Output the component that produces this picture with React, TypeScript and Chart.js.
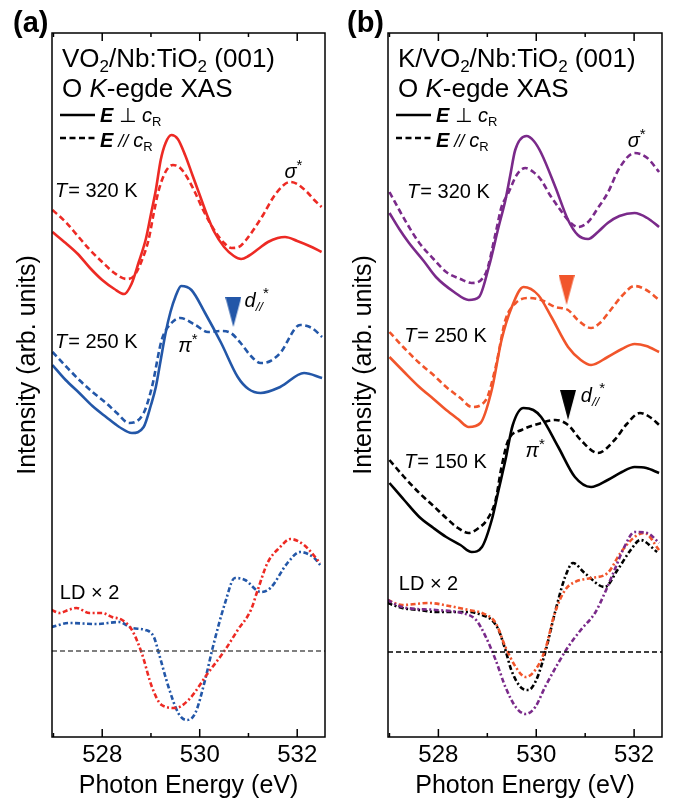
import React, { useEffect, useRef } from 'react';
import { Chart, registerables } from 'chart.js';
Chart.register(...registerables);

const FONT = '"Liberation Sans", Arial, Helvetica, "DejaVu Sans", sans-serif';

// ---- axes ----
const X_MIN = 526.97;
const X_MAX = 532.57;
const Y_MIN = 0;
const Y_MAX = 7.04;
const X_TICK_LABELS = [528, 530, 532];
const X_TITLE = 'Photon Energy (eV)';
const Y_TITLE = 'Intensity (arb. units)';

// ---- colours ----
const RED = '#ED2A24';
const BLUE = '#2357A8';
const PURPLE = '#7A2A8A';
const ORANGE = '#F1552B';
const BLACK = '#000000';

// ================= Panel (a): VO2/Nb:TiO2 =================
const A_E320_PERP = [526.98, 527.25, 527.5, 527.75, 528.0, 528.25, 528.45, 528.6, 528.75, 528.9, 529.0, 529.1, 529.2, 529.3, 529.42, 529.55, 529.7, 529.85, 530.0, 530.15, 530.3, 530.5, 530.7, 530.85, 531.0, 531.2, 531.4, 531.6, 531.75, 532.0, 532.25, 532.5];
const A_I320_PERP = [5.05, 4.94, 4.83, 4.69, 4.57, 4.48, 4.43, 4.53, 4.75, 4.99, 5.23, 5.47, 5.77, 5.94, 6.02, 5.98, 5.82, 5.62, 5.42, 5.22, 5.05, 4.90, 4.81, 4.78, 4.81, 4.88, 4.95, 4.99, 5.00, 4.96, 4.91, 4.85];
const A_E320_PARA = [526.98, 527.25, 527.5, 527.75, 528.0, 528.25, 528.5, 528.65, 528.8, 528.95, 529.05, 529.15, 529.25, 529.35, 529.45, 529.6, 529.75, 529.9, 530.05, 530.2, 530.35, 530.5, 530.65, 530.8, 530.95, 531.1, 531.3, 531.5, 531.7, 531.85, 532.0, 532.2, 532.35, 532.5];
const A_I320_PARA = [5.27, 5.15, 5.01, 4.87, 4.75, 4.64, 4.58, 4.61, 4.75, 4.97, 5.22, 5.45, 5.60, 5.69, 5.72, 5.69, 5.59, 5.45, 5.29, 5.15, 5.03, 4.94, 4.89, 4.90, 4.97, 5.07, 5.22, 5.39, 5.51, 5.55, 5.53, 5.45, 5.37, 5.30];

const A_E250_PERP = [526.98, 527.25, 527.53, 527.8, 528.08, 528.35, 528.61, 528.85, 529.0, 529.1, 529.2, 529.3, 529.4, 529.5, 529.62, 529.83, 530.11, 530.44, 530.78, 531.0, 531.25, 531.65, 532.14, 532.51];
const A_I250_PERP = [3.72, 3.57, 3.44, 3.31, 3.20, 3.10, 3.04, 3.10, 3.32, 3.50, 3.77, 4.04, 4.25, 4.40, 4.51, 4.47, 4.24, 3.94, 3.60, 3.48, 3.44, 3.50, 3.64, 3.59];
const A_E250_PARA = [526.98, 527.25, 527.53, 527.8, 528.08, 528.3, 528.55, 528.85, 529.02, 529.22, 529.42, 529.6, 529.91, 530.17, 530.44, 530.64, 530.84, 531.05, 531.25, 531.45, 531.65, 532.06, 532.3, 532.51];
const A_I250_PARA = [3.85, 3.71, 3.57, 3.45, 3.34, 3.24, 3.14, 3.24, 3.50, 3.97, 4.14, 4.19, 4.12, 4.05, 4.06, 4.04, 3.94, 3.81, 3.74, 3.76, 3.84, 4.12, 4.09, 4.00];

const A_ELD_320 = [526.96, 527.13, 527.3, 527.47, 527.74, 528.0, 528.2, 528.41, 528.61, 528.81, 529.02, 529.22, 529.5, 529.77, 530.17, 530.52, 530.78, 531.05, 531.19, 531.39, 531.65, 531.86, 532.14, 532.47];
const A_ILD_320 = [1.27, 1.24, 1.27, 1.29, 1.24, 1.24, 1.20, 1.17, 1.07, 0.84, 0.50, 0.32, 0.29, 0.37, 0.64, 0.87, 1.07, 1.27, 1.47, 1.74, 1.90, 1.98, 1.92, 1.74];
const A_ELD_250 = [526.96, 527.33, 527.88, 528.35, 528.61, 528.89, 529.06, 529.16, 529.36, 529.56, 529.73, 529.91, 530.11, 530.27, 530.52, 530.72, 530.93, 531.25, 531.45, 531.8, 532.06, 532.35, 532.47];
const A_ILD_250 = [1.10, 1.14, 1.13, 1.15, 1.09, 1.07, 1.00, 0.84, 0.50, 0.24, 0.17, 0.24, 0.57, 0.90, 1.34, 1.59, 1.57, 1.45, 1.49, 1.74, 1.85, 1.79, 1.72];
const A_LD_ZERO = 0.86;

const A_MARK_E = [530.69];
const A_MARK_I = [4.25];

// ================= Panel (b): K/VO2/Nb:TiO2 =================
const B_E320_PERP = [527.0, 527.2, 527.4, 527.7, 527.95, 528.32, 528.62, 528.83, 529.03, 529.23, 529.37, 529.47, 529.57, 529.8, 529.95, 530.1, 530.39, 530.65, 530.85, 531.06, 531.26, 531.46, 531.7, 532.01, 532.27, 532.51];
const B_I320_PERP = [5.24, 5.08, 4.94, 4.76, 4.60, 4.45, 4.37, 4.40, 4.70, 5.10, 5.37, 5.62, 5.87, 6.01, 5.96, 5.84, 5.50, 5.17, 5.02, 4.98, 5.05, 5.14, 5.21, 5.24, 5.19, 5.10];
const B_E320_PARA = [527.0, 527.2, 527.4, 527.61, 527.9, 528.16, 528.45, 528.68, 528.97, 529.17, 529.29, 529.43, 529.6, 529.78, 529.94, 530.1, 530.28, 530.45, 530.65, 530.85, 531.06, 531.26, 531.46, 531.7, 532.01, 532.27, 532.51];
const B_I320_PARA = [5.45, 5.27, 5.10, 4.94, 4.78, 4.65, 4.58, 4.54, 4.64, 5.04, 5.30, 5.44, 5.62, 5.69, 5.65, 5.57, 5.42, 5.30, 5.17, 5.10, 5.15, 5.29, 5.44, 5.69, 5.84, 5.79, 5.65];

const B_E250_PERP = [527.0, 527.3, 527.61, 527.9, 528.16, 528.4, 528.62, 528.86, 529.09, 529.29, 529.5, 529.74, 530.04, 530.31, 530.65, 530.91, 531.12, 531.46, 531.75, 532.01, 532.25, 532.51];
const B_I250_PERP = [3.80, 3.65, 3.50, 3.38, 3.27, 3.18, 3.10, 3.14, 3.47, 3.97, 4.30, 4.50, 4.42, 4.20, 3.90, 3.77, 3.72, 3.80, 3.88, 3.93, 3.91, 3.85];
const B_E250_PARA = [527.0, 527.3, 527.61, 527.9, 528.16, 528.45, 528.68, 528.97, 529.17, 529.37, 529.58, 529.84, 530.1, 530.39, 530.65, 530.85, 531.12, 531.3, 531.52, 531.75, 532.01, 532.25, 532.51];
const B_I250_PARA = [4.05, 3.89, 3.74, 3.62, 3.50, 3.39, 3.30, 3.37, 3.70, 4.17, 4.34, 4.39, 4.37, 4.30, 4.27, 4.17, 4.09, 4.14, 4.27, 4.41, 4.51, 4.47, 4.37];

const B_E150_PERP = [527.0, 527.3, 527.61, 527.9, 528.16, 528.45, 528.68, 528.89, 529.09, 529.23, 529.37, 529.52, 529.74, 529.94, 530.1, 530.45, 530.79, 531.12, 531.46, 531.75, 532.01, 532.25, 532.51];
const B_I150_PERP = [2.54, 2.37, 2.20, 2.09, 2.00, 1.92, 1.85, 1.90, 2.17, 2.47, 2.77, 3.12, 3.29, 3.27, 3.20, 2.90, 2.60, 2.50, 2.57, 2.65, 2.70, 2.69, 2.64];
const B_E150_PARA = [527.0, 527.3, 527.61, 527.9, 528.16, 528.4, 528.62, 528.85, 528.99, 529.17, 529.29, 529.43, 529.7, 530.1, 530.39, 530.65, 530.91, 531.26, 531.6, 531.85, 532.12, 532.35, 532.51];
const B_I150_PARA = [2.77, 2.60, 2.44, 2.31, 2.19, 2.09, 2.04, 2.10, 2.17, 2.37, 2.70, 2.97, 3.07, 3.14, 3.17, 3.12, 2.97, 2.84, 2.97, 3.13, 3.24, 3.19, 3.12];

const B_ELD_150 = [526.96, 527.26, 527.6, 527.95, 528.3, 528.62, 528.89, 529.09, 529.23, 529.37, 529.49, 529.7, 529.84, 530.0, 530.18, 530.38, 530.59, 530.75, 530.99, 531.4, 531.66, 531.93, 532.13, 532.47];
const B_ILD_150 = [1.34, 1.29, 1.27, 1.25, 1.25, 1.25, 1.22, 1.17, 1.07, 0.87, 0.67, 0.49, 0.47, 0.57, 0.84, 1.24, 1.60, 1.74, 1.64, 1.50, 1.67, 1.87, 1.97, 1.85];
const B_ELD_250 = [526.96, 527.26, 527.81, 528.22, 528.62, 528.89, 529.17, 529.37, 529.58, 529.78, 529.98, 530.18, 530.38, 530.59, 530.79, 531.12, 531.46, 531.72, 532.01, 532.21, 532.51];
const B_ILD_250 = [1.37, 1.32, 1.34, 1.31, 1.27, 1.24, 1.14, 0.90, 0.70, 0.60, 0.67, 0.87, 1.24, 1.47, 1.55, 1.59, 1.64, 1.84, 2.00, 2.04, 1.87];
const B_ELD_320 = [526.96, 527.26, 527.95, 528.48, 528.77, 528.97, 529.17, 529.37, 529.58, 529.78, 529.98, 530.18, 530.45, 530.65, 530.91, 531.2, 531.4, 531.6, 531.8, 532.01, 532.27, 532.51];
const B_ILD_320 = [1.37, 1.30, 1.27, 1.24, 1.17, 1.00, 0.77, 0.50, 0.30, 0.23, 0.30, 0.50, 0.74, 0.90, 1.07, 1.24, 1.44, 1.67, 1.90, 2.05, 2.04, 1.94];
const B_LD_ZERO = 0.85;

const B_MARK250_E = [530.62];
const B_MARK250_I = [4.47];
const B_MARK150_E = [530.65];
const B_MARK150_I = [3.32];

// ---- styles ----
const DASH = [6, 3.5];
const DASHDOT = [5, 2.5, 2, 2.5];
const LW = 2.6;

type Seg = { t: string; size: number; style?: string; weight?: string; dy?: number; kern?: number };

function drawRich(ctx: CanvasRenderingContext2D, x: number, y: number, segs: Seg[]) {
  let cx = x;
  for (const s of segs) {
    ctx.font = `${s.style || 'normal'} ${s.weight || 'normal'} ${s.size}px ${FONT}`;
    ctx.fillText(s.t, cx, y + (s.dy || 0));
    cx += ctx.measureText(s.t).width + (s.kern || 0);
  }
}

const pts = (E: number[], I: number[]) => E.map((e, i) => ({ x: e, y: I[i] }));

function curve(E: number[], I: number[], color: string, dash: number[] = [], width = LW) {
  return {
    data: pts(E, I),
    borderColor: color,
    borderWidth: width,
    borderDash: dash,
    pointRadius: 0,
    cubicInterpolationMode: 'monotone',
    fill: false,
  };
}

function hline(value: number, color: string) {
  return {
    data: [{ x: X_MIN, y: value }, { x: X_MAX, y: value }],
    borderColor: color,
    borderWidth: 1.4,
    borderDash: [5, 3],
    pointRadius: 0,
    fill: false,
  };
}

function triangleImage(color: string, w: number, h: number) {
  const c = document.createElement('canvas');
  c.width = w;
  c.height = h;
  const g = c.getContext('2d')!;
  g.fillStyle = color;
  g.beginPath();
  g.moveTo(0, 0);
  g.lineTo(w, 0);
  g.lineTo(w / 2, h);
  g.closePath();
  g.fill();
  return c;
}

function marker(E: number[], I: number[], color: string) {
  return {
    data: pts(E, I),
    showLine: false,
    pointRadius: 10,
    pointStyle: triangleImage(color, 16, 30),
    borderColor: color,
    backgroundColor: color,
  };
}

const T = (n: string): Seg[] => [
  { t: 'T', size: 20, style: 'italic', kern: 1 },
  { t: '= ' + n + ' K', size: 20 },
];
const STAR = (sym: string): Seg[] => [
  { t: sym, size: 20, style: 'italic', kern: 0 },
  { t: '*', size: 15, dy: -8 },
];
const DPAR: Seg[] = [
  { t: 'd', size: 20, style: 'italic' },
  { t: '//', size: 13, style: 'italic', dy: 4 },
  { t: '*', size: 15, dy: -9 },
];
const LDX2: Seg[] = [{ t: 'LD \u00d7 2', size: 20 }];

type Note = { e: number; i: number; segs: Seg[] };

type Spec = {
  letter: string;
  letterX: number;
  title: Seg[];
  notes: Note[];
  datasets: () => any[];
};

const SPEC_A: Spec = {
  letter: '(a)',
  letterX: 13,
  title: [
    { t: 'VO', size: 26 },
    { t: '2', size: 17, dy: 5 },
    { t: '/Nb:TiO', size: 26 },
    { t: '2', size: 17, dy: 5 },
    { t: ' (001)', size: 26 },
  ],
  notes: [
    { e: 527.03, i: 5.40, segs: T('320') },
    { e: 527.03, i: 3.89, segs: T('250') },
    { e: 531.74, i: 5.59, segs: STAR('\u03c3') },
    { e: 530.92, i: 4.30, segs: DPAR },
    { e: 529.56, i: 3.85, segs: STAR('\u03c0') },
    { e: 527.13, i: 1.38, segs: LDX2 },
  ],
  datasets: () => [
    hline(A_LD_ZERO, '#555555'),
    curve(A_E320_PARA, A_I320_PARA, RED, DASH),
    curve(A_E320_PERP, A_I320_PERP, RED),
    curve(A_E250_PARA, A_I250_PARA, BLUE, DASH),
    curve(A_E250_PERP, A_I250_PERP, BLUE),
    curve(A_ELD_320, A_ILD_320, RED, DASHDOT),
    curve(A_ELD_250, A_ILD_250, BLUE, DASHDOT),
    marker(A_MARK_E, A_MARK_I, BLUE),
  ],
};

const SPEC_B: Spec = {
  letter: '(b)',
  letterX: 11,
  title: [
    { t: 'K/VO', size: 26 },
    { t: '2', size: 17, dy: 5 },
    { t: '/Nb:TiO', size: 26 },
    { t: '2', size: 17, dy: 5 },
    { t: ' (001)', size: 26 },
  ],
  notes: [
    { e: 527.36, i: 5.39, segs: T('320') },
    { e: 527.30, i: 3.95, segs: T('250') },
    { e: 527.30, i: 2.69, segs: T('150') },
    { e: 531.87, i: 5.90, segs: STAR('\u03c3') },
    { e: 530.91, i: 3.35, segs: DPAR },
    { e: 529.78, i: 2.80, segs: STAR('\u03c0') },
    { e: 527.19, i: 1.47, segs: LDX2 },
  ],
  datasets: () => [
    hline(B_LD_ZERO, BLACK),
    curve(B_E320_PARA, B_I320_PARA, PURPLE, DASH),
    curve(B_E320_PERP, B_I320_PERP, PURPLE),
    curve(B_E250_PARA, B_I250_PARA, ORANGE, DASH),
    curve(B_E250_PERP, B_I250_PERP, ORANGE),
    curve(B_E150_PARA, B_I150_PARA, BLACK, DASH),
    curve(B_E150_PERP, B_I150_PERP, BLACK),
    curve(B_ELD_320, B_ILD_320, PURPLE, DASHDOT),
    curve(B_ELD_250, B_ILD_250, ORANGE, DASHDOT),
    curve(B_ELD_150, B_ILD_150, BLACK, DASHDOT),
    marker(B_MARK250_E, B_MARK250_I, ORANGE),
    marker(B_MARK150_E, B_MARK150_I, BLACK),
  ],
};

function isLabelled(v: number) {
  const r = Math.round(v);
  return Math.abs(v - r) < 1e-6 && X_TICK_LABELS.includes(r);
}

function makeDecor(spec: Spec) {
  return {
    id: 'decor',
    afterDraw(chart: any) {
      const { ctx, chartArea: ca, scales } = chart;
      const xs = scales.x;
      const ys = scales.y;
      ctx.save();
      ctx.strokeStyle = '#000';
      ctx.lineWidth = 1.5;
      ctx.setLineDash([]);
      ctx.strokeRect(ca.left, ca.top, ca.right - ca.left, ca.bottom - ca.top);
      for (const t of xs.ticks) {
        const px = xs.getPixelForValue(t.value);
        const len = isLabelled(t.value) ? 8 : 4;
        ctx.beginPath();
        ctx.moveTo(px, ca.bottom);
        ctx.lineTo(px, ca.bottom - len);
        ctx.moveTo(px, ca.top);
        ctx.lineTo(px, ca.top + len);
        ctx.stroke();
      }
      ctx.fillStyle = '#000';
      ctx.textBaseline = 'alphabetic';
      ctx.textAlign = 'left';
      // y-axis title (rotated)
      ctx.save();
      ctx.translate(ca.left - 17, ys.getPixelForValue((Y_MIN + Y_MAX) / 2) - 20);
      ctx.rotate(-Math.PI / 2);
      ctx.textAlign = 'center';
      ctx.font = `25px ${FONT}`;
      ctx.fillText(Y_TITLE, 0, 0);
      ctx.restore();
      // panel letter
      ctx.font = `bold 29px ${FONT}`;
      ctx.fillText(spec.letter, spec.letterX, 32);
      // title
      drawRich(ctx, ca.left + 10, ca.top + 34, spec.title);
      drawRich(ctx, ca.left + 10, ca.top + 64, [
        { t: 'O ', size: 26 },
        { t: 'K', size: 26, style: 'italic' },
        { t: '-egde XAS', size: 26 },
      ]);
      // legend
      ctx.lineWidth = LW;
      ctx.strokeStyle = '#000';
      ctx.beginPath();
      ctx.moveTo(ca.left + 8, ca.top + 82);
      ctx.lineTo(ca.left + 43, ca.top + 82);
      ctx.stroke();
      ctx.setLineDash(DASH);
      ctx.beginPath();
      ctx.moveTo(ca.left + 8, ca.top + 105);
      ctx.lineTo(ca.left + 43, ca.top + 105);
      ctx.stroke();
      ctx.setLineDash([]);
      drawRich(ctx, ca.left + 48, ca.top + 89, [
        { t: 'E', size: 20, style: 'italic', weight: 'bold' },
        { t: ' \u22a5 ', size: 20 },
        { t: 'c', size: 20, style: 'italic' },
        { t: 'R', size: 13, dy: 4 },
      ]);
      drawRich(ctx, ca.left + 48, ca.top + 114, [
        { t: 'E', size: 20, style: 'italic', weight: 'bold' },
        { t: ' // ', size: 18, style: 'italic' },
        { t: 'c', size: 20, style: 'italic' },
        { t: 'R', size: 13, dy: 4 },
      ]);
      // annotations
      for (const n of spec.notes) {
        drawRich(ctx, xs.getPixelForValue(n.e), ys.getPixelForValue(n.i), n.segs);
      }
      ctx.restore();
    },
  };
}

function Panel({ spec, left, width }: { spec: Spec; left: number; width: number }) {
  const ref = useRef<HTMLCanvasElement | null>(null);
  useEffect(() => {
    const canvas = ref.current!;
    const chart = new Chart(canvas, {
      type: 'line',
      data: { datasets: spec.datasets() },
      options: {
        responsive: false,
        animation: false,
        devicePixelRatio: 1,
        layout: { padding: { top: 33, right: 8, left: 0, bottom: 0 } },
        plugins: { legend: { display: false }, tooltip: { enabled: false } },
        scales: {
          x: {
            type: 'linear',
            min: X_MIN,
            max: X_MAX,
            grid: { display: false, drawTicks: false },
            border: { display: false },
            ticks: {
              stepSize: 1,
              includeBounds: false,
              autoSkip: false,
              maxRotation: 0,
              padding: 4,
              color: '#000',
              font: { family: FONT, size: 24 },
              callback: (v: any) => (isLabelled(Number(v)) ? String(Math.round(Number(v))) : ''),
            },
            title: {
              display: true,
              text: X_TITLE,
              color: '#000',
              font: { family: FONT, size: 25, lineHeight: 1 },
              padding: { top: 0, bottom: 1 },
            },
            afterFit: (s: any) => {
              s.height = 63;
            },
          },
          y: {
            type: 'linear',
            min: Y_MIN,
            max: Y_MAX,
            grid: { display: false, drawTicks: false },
            border: { display: false },
            ticks: { display: false },
            title: { display: false },
            afterFit: (s: any) => {
              s.width = 52;
            },
          },
        },
      } as any,
      plugins: [makeDecor(spec)],
    });
    return () => chart.destroy();
  }, []);
  return (
    <canvas
      ref={ref}
      width={width}
      height={800}
      style={{ position: 'absolute', left, top: 0, width, height: 800 }}
    />
  );
}

export default function App() {
  return (
    <div style={{ position: 'absolute', left: 0, top: 0, width: 673, height: 800, background: '#fff' }}>
      <Panel spec={SPEC_A} left={0} width={336} />
      <Panel spec={SPEC_B} left={336} width={337} />
    </div>
  );
}
